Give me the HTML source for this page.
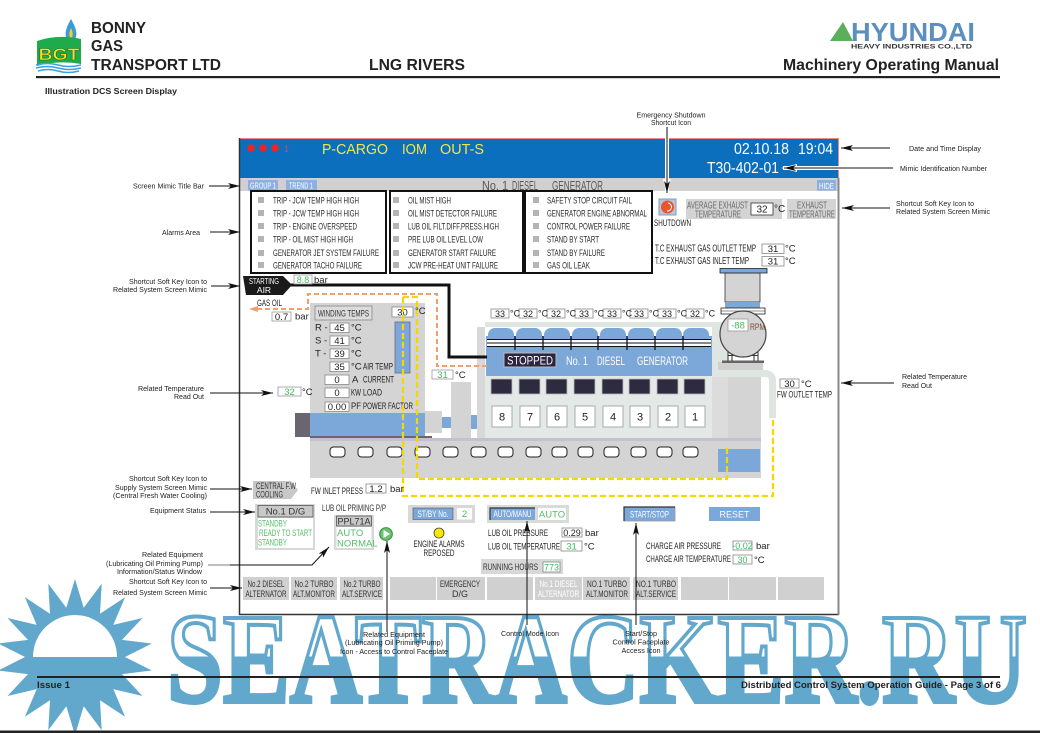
<!DOCTYPE html>
<html><head><meta charset="utf-8"><style>
html,body{margin:0;padding:0;background:#fff;}
svg{display:block;}
text{font-family:"Liberation Sans",Arial,sans-serif;}
.n{font-family:"Liberation Sans Narrow","Liberation Sans",sans-serif;}
.a{font-size:7px;fill:#222;}
</style></head><body>
<svg width="1040" height="733" viewBox="0 0 1040 733" xmlns="http://www.w3.org/2000/svg">
<defs>
<marker id="ah" viewBox="0 0 12 6" refX="12" refY="3" markerWidth="12" markerHeight="6" orient="auto" markerUnits="userSpaceOnUse"><path d="M0,0 L12,3 L0,6 L3,3 z" fill="#111"/></marker>
<linearGradient id="wm" gradientUnits="userSpaceOnUse" x1="0" y1="612" x2="0" y2="705"><stop offset="0.48" stop-color="#fff"/><stop offset="0.48" stop-color="#62a8cc"/></linearGradient>
</defs>

<!-- watermark -->
<polygon fill="#62a8cc" points="75,579 83.7,607.8 101.7,583.7 100,613.7 125.1,597.2 113.3,624.9 142.5,618 122,639.9 151.8,643.5 125,657 151.8,670.5 122,674.1 142.5,696 113.3,689.1 125.1,716.7 100,700.3 101.7,730.3 83.7,706.2 75,735 66.3,706.2 48.3,730.3 50,700.3 24.9,716.7 36.7,689.1 7.5,696 28,674.1 -1.8,670.5 25,657 -1.8,643.5 28,639.9 7.5,618 36.7,624.9 24.9,597.2 50,613.7 48.3,583.7 66.3,607.8"/>
<circle cx="75" cy="657" r="50" fill="#62a8cc"/>
<path d="M33,657 A42,42 0 0 1 117,657 Z" fill="#fff"/>
<text x="167" y="702" font-family="Liberation Serif,serif" font-weight="bold" font-size="128" textLength="860" lengthAdjust="spacingAndGlyphs" fill="url(#wm)" stroke="#62a8cc" stroke-width="4" style="font-family:'Liberation Serif',serif">SEATRACKER.RU</text>

<!-- header -->
<path d="M71,19 C66,28 64,34 67,39 L75,39 C78,34 76,28 71,19 Z" fill="#3b9ad9"/>
<path d="M71,28 C69,32 69,35 70,38 L72,38 C73,35 73,32 71,28 Z" fill="#f5d020"/>
<path d="M37,41 Q58,34 81,39 L81,64 Q58,60 37,66 Z" fill="#1faa4c"/>
<text x="38.5" y="60" font-size="17" font-weight="bold" fill="#f3e21c" stroke="#2a6a2a" stroke-width="0.6" textLength="41" lengthAdjust="spacingAndGlyphs">BGT</text>
<path d="M36,65 Q47,62 58,65 T81,65 M36,68 Q47,65 58,68 T81,68 M38,71 Q48,68 58,71 T79,71" fill="none" stroke="#3aa2e2" stroke-width="1.6"/>
<text x="91" y="33" font-size="16" font-weight="bold" fill="#222" textLength="55" lengthAdjust="spacingAndGlyphs">BONNY</text>
<text x="91" y="51" font-size="16" font-weight="bold" fill="#222" textLength="32" lengthAdjust="spacingAndGlyphs">GAS</text>
<text x="91" y="70" font-size="16" font-weight="bold" fill="#222" textLength="130" lengthAdjust="spacingAndGlyphs">TRANSPORT LTD</text>
<text x="369" y="70" font-size="16" font-weight="bold" fill="#222" textLength="96" lengthAdjust="spacingAndGlyphs">LNG RIVERS</text>
<polygon points="830,41 853,41 843,22" fill="#5bae5b"/>
<text x="851" y="41" font-size="26" font-weight="bold" fill="#5b8fc0" textLength="124" lengthAdjust="spacingAndGlyphs">HYUNDAI</text>
<text x="851" y="48.5" font-size="6.5" font-weight="bold" fill="#333" textLength="121" lengthAdjust="spacingAndGlyphs">HEAVY INDUSTRIES CO.,LTD</text>
<text x="783" y="70" font-size="16" font-weight="bold" fill="#222" textLength="216" lengthAdjust="spacingAndGlyphs">Machinery Operating Manual</text>
<rect x="36" y="76" width="964" height="2.2" fill="#222"/>
<text x="45" y="94" font-size="8.5" font-weight="bold" fill="#222" textLength="132" lengthAdjust="spacingAndGlyphs">Illustration DCS Screen Display</text>

<!-- DCS frame -->
<rect x="240" y="138" width="599" height="476" fill="#fff"/>
<rect x="240" y="138" width="599" height="40" fill="#0b6fbe"/>
<path d="M239.5,138.5 L838.5,138.5 L838.5,178" fill="none" stroke="#e88" stroke-width="1"/>
<circle cx="251" cy="148" r="3.8" fill="#ee2222"/>
<circle cx="263" cy="148" r="3.8" fill="#ee2222"/>
<circle cx="275" cy="148" r="3.8" fill="#ee2222"/>
<text x="284" y="152" font-size="9" fill="#e04060">1</text>
<g font-size="15" fill="#f2e64a">
<text x="322" y="154" textLength="66" lengthAdjust="spacingAndGlyphs">P-CARGO</text>
<text x="402" y="154" textLength="25" lengthAdjust="spacingAndGlyphs">IOM</text>
<text x="440" y="154" textLength="44" lengthAdjust="spacingAndGlyphs">OUT-S</text>
</g>
<g font-size="16" fill="#fff">
<text x="734" y="154" textLength="55" lengthAdjust="spacingAndGlyphs">02.10.18</text>
<text x="798" y="154" textLength="35" lengthAdjust="spacingAndGlyphs">19:04</text>
<text x="707" y="173" textLength="72" lengthAdjust="spacingAndGlyphs">T30-402-01</text>
</g>
<rect x="240" y="178" width="599" height="13" fill="#d0d0d0"/>
<rect x="248" y="180" width="30" height="10.5" fill="#8fb0dc"/>
<text class="n" x="250" y="188.5" font-size="8" fill="#fff" textLength="26" lengthAdjust="spacingAndGlyphs">GROUP 1</text>
<rect x="286" y="180" width="31" height="10.5" fill="#8fb0dc"/>
<text class="n" x="289" y="188.5" font-size="8" fill="#fff" textLength="24" lengthAdjust="spacingAndGlyphs">TREND 1</text>
<g class="n" font-size="13" fill="#5a5a5a">
<text x="482" y="190" textLength="26" lengthAdjust="spacingAndGlyphs">No. 1</text>
<text x="512" y="190" textLength="26" lengthAdjust="spacingAndGlyphs">DIESEL</text>
<text x="552" y="190" textLength="51" lengthAdjust="spacingAndGlyphs">GENERATOR</text>
</g>
<rect x="817" y="180" width="19" height="10.5" fill="#8fb0dc"/>
<text class="n" x="819" y="189" font-size="8.5" fill="#fff" textLength="15" lengthAdjust="spacingAndGlyphs">HIDE</text>

<!-- alarm boxes -->
<g fill="none" stroke="#111" stroke-width="2">
<rect x="251" y="191" width="135" height="82"/>
<rect x="390" y="191" width="133" height="82"/>
<rect x="525" y="191" width="127" height="82"/>
</g>
<g fill="#b4b4b4">
<rect x="258" y="197" width="6" height="6"/><rect x="258" y="210" width="6" height="6"/><rect x="258" y="223" width="6" height="6"/><rect x="258" y="236" width="6" height="6"/><rect x="258" y="250" width="6" height="6"/><rect x="258" y="262" width="6" height="6"/>
<rect x="393" y="197" width="6" height="6"/><rect x="393" y="210" width="6" height="6"/><rect x="393" y="223" width="6" height="6"/><rect x="393" y="236" width="6" height="6"/><rect x="393" y="250" width="6" height="6"/><rect x="393" y="262" width="6" height="6"/>
<rect x="533" y="197" width="6" height="6"/><rect x="533" y="210" width="6" height="6"/><rect x="533" y="223" width="6" height="6"/><rect x="533" y="236" width="6" height="6"/><rect x="533" y="250" width="6" height="6"/><rect x="533" y="262" width="6" height="6"/>
</g>
<g class="n" font-size="9" fill="#2a2a2a">
<text x="273" y="203.5" textLength="86" lengthAdjust="spacingAndGlyphs">TRIP - JCW TEMP HIGH HIGH</text>
<text x="273" y="216.5" textLength="86" lengthAdjust="spacingAndGlyphs">TRIP - JCW TEMP HIGH HIGH</text>
<text x="273" y="229.5" textLength="84" lengthAdjust="spacingAndGlyphs">TRIP - ENGINE OVERSPEED</text>
<text x="273" y="242.5" textLength="80" lengthAdjust="spacingAndGlyphs">TRIP - OIL MIST HIGH HIGH</text>
<text x="273" y="256" textLength="106" lengthAdjust="spacingAndGlyphs">GENERATOR JET SYSTEM FAILURE</text>
<text x="273" y="268.5" textLength="89" lengthAdjust="spacingAndGlyphs">GENERATOR TACHO FAILURE</text>
<text x="408" y="203.5" textLength="43" lengthAdjust="spacingAndGlyphs">OIL MIST HIGH</text>
<text x="408" y="216.5" textLength="89" lengthAdjust="spacingAndGlyphs">OIL MIST DETECTOR FAILURE</text>
<text x="408" y="229.5" textLength="91" lengthAdjust="spacingAndGlyphs">LUB OIL FILT.DIFF.PRESS.HIGH</text>
<text x="408" y="242.5" textLength="75" lengthAdjust="spacingAndGlyphs">PRE LUB OIL LEVEL LOW</text>
<text x="408" y="256" textLength="88" lengthAdjust="spacingAndGlyphs">GENERATOR START FAILURE</text>
<text x="408" y="268.5" textLength="90" lengthAdjust="spacingAndGlyphs">JCW PRE-HEAT UNIT FAILURE</text>
<text x="547" y="203.5" textLength="85" lengthAdjust="spacingAndGlyphs">SAFETY STOP CIRCUIT FAIL</text>
<text x="547" y="216.5" textLength="100" lengthAdjust="spacingAndGlyphs">GENERATOR ENGINE ABNORMAL</text>
<text x="547" y="229.5" textLength="83" lengthAdjust="spacingAndGlyphs">CONTROL POWER FAILURE</text>
<text x="547" y="242.5" textLength="52" lengthAdjust="spacingAndGlyphs">STAND BY START</text>
<text x="547" y="256" textLength="58" lengthAdjust="spacingAndGlyphs">STAND BY FAILURE</text>
<text x="547" y="268.5" textLength="43" lengthAdjust="spacingAndGlyphs">GAS OIL LEAK</text>
</g>

<!-- right top panel -->
<rect x="659" y="199" width="17" height="16" fill="#b8c4d8" stroke="#8a9ab8"/>
<circle cx="667.5" cy="207" r="6.5" fill="#e8552e"/>
<path d="M668,203 A4,4 0 0 1 667,211" fill="none" stroke="#fff" stroke-width="1"/>
<text class="n" x="654" y="226" font-size="9.5" fill="#222" textLength="37" lengthAdjust="spacingAndGlyphs">SHUTDOWN</text>
<rect x="686" y="199" width="96" height="20" fill="#d4d4d4"/>
<text class="n" x="687" y="208.5" font-size="10" fill="#6a6a6a" textLength="61" lengthAdjust="spacingAndGlyphs">AVERAGE EXHAUST</text>
<text class="n" x="695" y="217.5" font-size="10" fill="#6a6a6a" textLength="46" lengthAdjust="spacingAndGlyphs">TEMPERATURE</text>
<rect x="751" y="203" width="22" height="12" fill="#fff" stroke="#333" stroke-width="0.8"/>
<text class="n" x="762" y="212.5" font-size="10" fill="#222" text-anchor="middle">32</text>
<text class="n" x="774" y="212" font-size="10" fill="#222">°C</text>
<rect x="787" y="199" width="49" height="20" fill="#d4d4d4"/>
<text class="n" x="797" y="208.5" font-size="10" fill="#6a6a6a" textLength="30" lengthAdjust="spacingAndGlyphs">EXHAUST</text>
<text class="n" x="789" y="217.5" font-size="10" fill="#6a6a6a" textLength="46" lengthAdjust="spacingAndGlyphs">TEMPERATURE</text>
<text class="n" x="655" y="251.5" font-size="10" fill="#222" textLength="101" lengthAdjust="spacingAndGlyphs">T.C EXHAUST GAS OUTLET TEMP</text>
<text class="n" x="655" y="264" font-size="10" fill="#222" textLength="94" lengthAdjust="spacingAndGlyphs">T.C EXHAUST GAS INLET TEMP</text>
<rect x="762" y="244" width="22" height="9.5" fill="#fff" stroke="#888" stroke-width="0.8"/>
<text class="n" x="773" y="252" font-size="9.5" fill="#222" text-anchor="middle">31</text>
<text class="n" x="785" y="251.5" font-size="9.5" fill="#222">°C</text>
<rect x="762" y="256.5" width="22" height="9.5" fill="#fff" stroke="#888" stroke-width="0.8"/>
<text class="n" x="773" y="264.5" font-size="9.5" fill="#222" text-anchor="middle">31</text>
<text class="n" x="785" y="264" font-size="9.5" fill="#222">°C</text>

<!-- base & generator -->
<rect x="310" y="438" width="451" height="40" fill="#d4d4d4"/>
<rect x="310" y="438" width="451" height="3" fill="#c6bfd0"/>
<rect x="718" y="449" width="42" height="23" fill="#7ca7d9"/>
<g fill="#fff" stroke="#222" stroke-width="1">
<rect x="330" y="447" width="15" height="10" rx="3.5"/><rect x="358" y="447" width="15" height="10" rx="3.5"/><rect x="387" y="447" width="15" height="10" rx="3.5"/><rect x="415" y="447" width="15" height="10" rx="3.5"/><rect x="443" y="447" width="15" height="10" rx="3.5"/><rect x="471" y="447" width="15" height="10" rx="3.5"/><rect x="498" y="447" width="15" height="10" rx="3.5"/><rect x="526" y="447" width="15" height="10" rx="3.5"/><rect x="552" y="447" width="15" height="10" rx="3.5"/><rect x="578" y="447" width="15" height="10" rx="3.5"/><rect x="604" y="447" width="15" height="10" rx="3.5"/><rect x="631" y="447" width="15" height="10" rx="3.5"/><rect x="657" y="447" width="15" height="10" rx="3.5"/><rect x="683" y="447" width="15" height="10" rx="3.5"/>
</g>
<rect x="310" y="303" width="115" height="110" fill="#d4d4d4"/>
<rect x="295" y="413" width="15" height="24" fill="#6a6570"/>
<rect x="310" y="413" width="115" height="24" fill="#7ca7d9"/>
<rect x="310" y="436" width="122" height="2" fill="#6a6570"/>
<rect x="425" y="411" width="17" height="22" fill="#d4d4d4"/>
<rect x="442" y="417" width="10" height="11" fill="#7ca7d9"/>
<rect x="451" y="382" width="20" height="56" fill="#d4d4d4"/>
<rect x="471" y="415" width="7" height="14" fill="#7ca7d9"/>

<!-- winding panel contents -->
<rect x="315" y="306" width="57" height="14" fill="#dcdcdc" stroke="#888" stroke-width="0.8"/>
<text class="n" x="318" y="316.5" font-size="9.5" fill="#333" textLength="51" lengthAdjust="spacingAndGlyphs">WINDING TEMPS</text>
<rect x="392" y="307" width="21" height="10" fill="#fff" stroke="#888" stroke-width="0.8"/>
<text class="n" x="402.5" y="315.5" font-size="9.5" fill="#222" text-anchor="middle">30</text>
<text class="n" x="415" y="314" font-size="9.5" fill="#222">°C</text>
<rect x="395" y="322" width="15" height="51" fill="#7ca7d9" stroke="#6a6a80" stroke-width="0.8"/>
<g class="n" font-size="9.5" fill="#222">
<text x="315" y="330.5">R -</text><text x="315" y="343.5">S -</text><text x="315" y="356.5">T -</text>
</g>
<g fill="#fff" stroke="#888" stroke-width="0.8">
<rect x="330" y="323" width="19" height="9.5"/><rect x="330" y="336" width="19" height="9.5"/><rect x="330" y="349" width="19" height="9.5"/><rect x="330" y="362" width="19" height="9.5"/>
<rect x="325" y="375" width="24" height="9.5"/><rect x="325" y="388" width="24" height="9.5"/><rect x="325" y="402" width="24" height="9.5"/>
</g>
<g class="n" font-size="9.5" fill="#222" text-anchor="middle">
<text x="339.5" y="331">45</text><text x="339.5" y="344">41</text><text x="339.5" y="357">39</text><text x="339.5" y="370">35</text>
<text x="337" y="383">0</text><text x="337" y="396">0</text><text x="337" y="410">0.00</text>
</g>
<g class="n" font-size="9.5" fill="#222">
<text x="351" y="330.5">°C</text><text x="351" y="343.5">°C</text><text x="351" y="356.5">°C</text><text x="351" y="369.5">°C</text>
<text x="363" y="369.5" textLength="30" lengthAdjust="spacingAndGlyphs">AIR TEMP</text>
<text x="352" y="382.5">A</text><text x="363" y="382.5" textLength="31" lengthAdjust="spacingAndGlyphs">CURRENT</text>
<text x="351" y="395.5" textLength="10" lengthAdjust="spacingAndGlyphs">KW</text><text x="363" y="395.5" textLength="19" lengthAdjust="spacingAndGlyphs">LOAD</text>
<text x="351" y="409" textLength="10" lengthAdjust="spacingAndGlyphs">PF</text><text x="363" y="409" textLength="50" lengthAdjust="spacingAndGlyphs">POWER FACTOR</text>
</g>

<!-- engine -->
<rect x="477" y="327" width="8" height="111" fill="#d8d8d8"/>
<rect x="485" y="322" width="227" height="5" fill="#dfe6e2"/>
<rect x="485" y="376" width="227" height="62" fill="#e2e9e6"/>
<rect x="486" y="336" width="226" height="40" fill="#7ca7d9"/>
<g fill="#7ca7d9">
<rect x="488" y="328" width="26" height="20" rx="7"/><rect x="516" y="328" width="26" height="20" rx="7"/><rect x="544" y="328" width="26" height="20" rx="7"/><rect x="572" y="328" width="26" height="20" rx="7"/><rect x="600" y="328" width="26" height="20" rx="7"/><rect x="628" y="328" width="26" height="20" rx="7"/><rect x="656" y="328" width="26" height="20" rx="7"/><rect x="683" y="328" width="26" height="20" rx="7"/>
</g>
<rect x="487" y="339" width="224" height="8" fill="#fff"/>
<path d="M487,339.5 H711 M487,343 H711 M487,346.5 H711" stroke="#111" stroke-width="0.9"/>
<path d="M515,336 V350 M543,336 V350 M571,336 V350 M598,336 V350 M627,336 V350 M655,336 V350 M683,336 V350" stroke="#111" stroke-width="1.3"/>
<rect x="504" y="353" width="52" height="14" fill="#2b2540" stroke="#bbb" stroke-width="1"/>
<text class="n" x="530" y="364.5" font-size="12" fill="#fff" text-anchor="middle" textLength="46" lengthAdjust="spacingAndGlyphs">STOPPED</text>
<g class="n" font-size="12" fill="#fff">
<text x="566" y="365" textLength="22" lengthAdjust="spacingAndGlyphs">No. 1</text>
<text x="597" y="365" textLength="28" lengthAdjust="spacingAndGlyphs">DIESEL</text>
<text x="637" y="365" textLength="51" lengthAdjust="spacingAndGlyphs">GENERATOR</text>
</g>
<g fill="#2e2a40" stroke="#bbb" stroke-width="0.8">
<rect x="491" y="379" width="21" height="15"/><rect x="519" y="379" width="21" height="15"/><rect x="546" y="379" width="21" height="15"/><rect x="574" y="379" width="21" height="15"/><rect x="602" y="379" width="21" height="15"/><rect x="629" y="379" width="21" height="15"/><rect x="657" y="379" width="21" height="15"/><rect x="684" y="379" width="21" height="15"/>
</g>
<g fill="#fff" stroke="#aaa" stroke-width="1">
<rect x="492" y="406" width="20" height="21"/><rect x="520" y="406" width="20" height="21"/><rect x="547" y="406" width="20" height="21"/><rect x="575" y="406" width="20" height="21"/><rect x="603" y="406" width="20" height="21"/><rect x="630" y="406" width="20" height="21"/><rect x="658" y="406" width="20" height="21"/><rect x="685" y="406" width="20" height="21"/>
</g>
<g class="n" font-size="11" fill="#222" text-anchor="middle">
<text x="502" y="420.5">8</text><text x="530" y="420.5">7</text><text x="557" y="420.5">6</text><text x="585" y="420.5">5</text><text x="613" y="420.5">4</text><text x="640" y="420.5">3</text><text x="668" y="420.5">2</text><text x="695" y="420.5">1</text>
</g>
<!-- cylinder temps -->
<g fill="#fff" stroke="#888" stroke-width="0.8">
<rect x="491" y="309" width="18" height="9"/><rect x="519" y="309" width="18" height="9"/><rect x="547" y="309" width="18" height="9"/><rect x="575" y="309" width="18" height="9"/><rect x="603" y="309" width="18" height="9"/><rect x="630" y="309" width="18" height="9"/><rect x="658" y="309" width="18" height="9"/><rect x="686" y="309" width="18" height="9"/>
</g>
<g class="n" font-size="9" fill="#222" text-anchor="middle">
<text x="500" y="317">33</text><text x="528" y="317">32</text><text x="556" y="317">32</text><text x="584" y="317">33</text><text x="612" y="317">33</text><text x="639" y="317">33</text><text x="667" y="317">33</text><text x="695" y="317">32</text>
</g>
<g class="n" font-size="9" fill="#222">
<text x="510" y="316.5">°C</text><text x="538" y="316.5">°C</text><text x="566" y="316.5">°C</text><text x="594" y="316.5">°C</text><text x="622" y="316.5">°C</text><text x="649" y="316.5">°C</text><text x="677" y="316.5">°C</text><text x="705" y="316.5">°C</text>
</g>

<!-- turbo / right end -->
<rect x="712" y="322" width="16" height="50" fill="#dfe6e2"/>
<rect x="712" y="377" width="49" height="61" fill="#d4d4d4"/>
<rect x="712" y="377" width="16" height="61" fill="#dcdcdc"/>
<path d="M712,373.5 H765 Q772.5,373.5 772.5,381 V418" fill="none" stroke="#dfe6e2" stroke-width="7"/>
<rect x="718" y="362" width="45" height="8" fill="#d0d0d0"/>
<rect x="722" y="360.5" width="42" height="2.5" fill="#666"/>
<path d="M728,352 V361 M732,352 V361 M754,352 V361 M758,352 V361 M728,355.5 H758" stroke="#333" stroke-width="1" fill="none"/>
<rect x="725" y="273" width="35" height="29" fill="#d4d4d4" stroke="#333" stroke-width="0.8"/>
<rect x="725" y="302" width="35" height="6" fill="#7ca7d9"/>
<rect x="720" y="268.5" width="47" height="4.5" fill="#7ca7d9" stroke="#222" stroke-width="0.8"/>
<rect x="721" y="308" width="44" height="6" fill="#fff" stroke="#222" stroke-width="0.8"/>
<path d="M721,311 H765" stroke="#222" stroke-width="0.6"/>
<circle cx="743" cy="334" r="23" fill="#d4d4d4" stroke="#444" stroke-width="1.2"/>
<rect x="728" y="319" width="20" height="12" fill="#fff" stroke="#999" stroke-width="0.8"/>
<text class="n" x="738" y="328.5" font-size="9.5" fill="#3fbf5f" text-anchor="middle">-88</text>
<text class="n" x="750" y="330" font-size="9" fill="#7a4a30" textLength="15" lengthAdjust="spacingAndGlyphs">RPM</text>
<rect x="780" y="379" width="19" height="9" fill="#fff" stroke="#888" stroke-width="0.8"/>
<text class="n" x="789.5" y="387" font-size="9.5" fill="#222" text-anchor="middle">30</text>
<text class="n" x="801" y="387" font-size="9.5" fill="#222">°C</text>
<text class="n" x="777" y="397.5" font-size="9.5" fill="#222" textLength="55" lengthAdjust="spacingAndGlyphs">FW OUTLET TEMP</text>

<!-- small readouts -->
<rect x="432" y="370" width="21" height="9" fill="#fff" stroke="#999" stroke-width="0.8"/>
<text class="n" x="442.5" y="378" font-size="9.5" fill="#3fbf5f" text-anchor="middle">31</text>
<text class="n" x="455" y="378" font-size="9.5" fill="#222">°C</text>
<rect x="278" y="387" width="23" height="9" fill="#fff" stroke="#999" stroke-width="0.8"/>
<text class="n" x="289.5" y="395" font-size="9.5" fill="#3fbf5f" text-anchor="middle">32</text>
<text class="n" x="302" y="395" font-size="9.5" fill="#222">°C</text>

<!-- pipes -->
<path d="M487,366 L437,366 L437,294 L308,294 L308,309 L256,309" fill="none" stroke="#f0a070" stroke-width="2" stroke-dasharray="5 3"/>
<polygon points="249,309 258,306 258,312" fill="#f0a070"/>
<text class="n" x="257" y="306" font-size="9.5" fill="#222" textLength="25" lengthAdjust="spacingAndGlyphs">GAS OIL</text>
<rect x="272" y="312" width="19" height="9" fill="#fff" stroke="#999" stroke-width="0.8"/>
<text class="n" x="281.5" y="320" font-size="9.5" fill="#222" text-anchor="middle">0.7</text>
<text class="n" x="295" y="319.5" font-size="9.5" fill="#222">bar</text>
<path d="M286,285 L449,285 L449,357 L487,357" fill="none" stroke="#111" stroke-width="3"/>
<polygon points="243,276 283,276 292,285 283,295 246,295" fill="#1a1a1a"/>
<text class="n" x="264" y="284" font-size="8.5" fill="#fff" text-anchor="middle" textLength="30" lengthAdjust="spacingAndGlyphs">STARTING</text>
<text class="n" x="264" y="293" font-size="8.5" fill="#fff" text-anchor="middle">AIR</text>
<rect x="294" y="275" width="18" height="9" fill="#fff" stroke="#999" stroke-width="0.8"/>
<text class="n" x="303" y="283" font-size="9" fill="#3fbf5f" text-anchor="middle">8.8</text>
<text class="n" x="314" y="283" font-size="9.5" fill="#222">bar</text>
<g fill="none" stroke="#f5d800" stroke-width="2.2" stroke-dasharray="6 3">
<path d="M403,297 L403,496 L773,496 L773,417"/>
<path d="M403,297 L417,297 L417,479 L727,479 L727,447"/>
</g>

<!-- central FW -->
<polygon points="253,481 291,481 298,490 291,499 253,499" fill="#c8c8c8"/>
<text class="n" x="256" y="489" font-size="9" fill="#333" textLength="40" lengthAdjust="spacingAndGlyphs">CENTRAL F.W</text>
<text class="n" x="256" y="497.5" font-size="9" fill="#333" textLength="27" lengthAdjust="spacingAndGlyphs">COOLING</text>
<text class="n" x="311" y="494" font-size="9.5" fill="#222" textLength="52" lengthAdjust="spacingAndGlyphs">FW INLET PRESS</text>
<rect x="366" y="484" width="20" height="9" fill="#fff" stroke="#888" stroke-width="0.8"/>
<text class="n" x="376" y="492" font-size="9.5" fill="#222" text-anchor="middle">1.2</text>
<text class="n" x="390" y="492" font-size="9.5" fill="#222">bar</text>

<!-- No.1 D/G -->
<rect x="255" y="504" width="60" height="46" fill="#d8d8d8"/>
<rect x="258" y="505.5" width="55" height="11.5" fill="#c8c8c8" stroke="#555" stroke-width="0.8"/>
<text class="n" x="285.5" y="514.5" font-size="9.5" fill="#333" text-anchor="middle">No.1 D/G</text>
<rect x="258" y="518" width="55" height="30" fill="#fff"/>
<g class="n" font-size="9.5" fill="#52c06a">
<text x="258" y="526.5" textLength="29" lengthAdjust="spacingAndGlyphs">STANDBY</text>
<text x="259" y="536" textLength="53" lengthAdjust="spacingAndGlyphs">READY TO START</text>
<text x="258" y="545.5" textLength="29" lengthAdjust="spacingAndGlyphs">STANDBY</text>
</g>
<text class="n" x="322" y="511" font-size="9.5" fill="#333" textLength="64" lengthAdjust="spacingAndGlyphs">LUB OIL PRIMING P/P</text>
<rect x="334" y="515" width="40" height="35" fill="#d8d8d8"/>
<rect x="336.5" y="516" width="35" height="10" fill="#c8c8c8" stroke="#555" stroke-width="0.8"/>
<text class="n" x="354" y="524.5" font-size="9" fill="#333" text-anchor="middle">PPL71A</text>
<rect x="336.5" y="527" width="35" height="21" fill="#fff"/>
<text class="n" x="337" y="536" font-size="9.5" fill="#52c06a">AUTO</text>
<text class="n" x="337" y="546.5" font-size="9.5" fill="#52c06a">NORMAL</text>
<circle cx="386" cy="534" r="6.3" fill="#6cc070" stroke="#3a9a4a" stroke-width="1.2"/>
<polygon points="383.5,530 383.5,538 390,534" fill="#fff"/>

<!-- ST/BY -->
<rect x="408" y="505" width="67" height="18" fill="#d8d8d8"/>
<rect x="413" y="508" width="40" height="11.5" fill="#7ca7d9" stroke="#555" stroke-width="0.6"/>
<text class="n" x="433" y="517" font-size="9" fill="#fff" text-anchor="middle" textLength="31" lengthAdjust="spacingAndGlyphs">ST/BY No.</text>
<rect x="457" y="508" width="15" height="11.5" fill="#fff"/>
<text class="n" x="464.5" y="517" font-size="9.5" fill="#3fbf5f" text-anchor="middle">2</text>
<circle cx="439" cy="533" r="5" fill="#f8e800" stroke="#444" stroke-width="0.8"/>
<text class="n" x="439" y="547" font-size="9.5" fill="#222" text-anchor="middle" textLength="51" lengthAdjust="spacingAndGlyphs">ENGINE ALARMS</text>
<text class="n" x="439" y="556" font-size="9.5" fill="#222" text-anchor="middle" textLength="31" lengthAdjust="spacingAndGlyphs">REPOSED</text>

<!-- AUTO/MANU -->
<rect x="487" y="505" width="82" height="18" fill="#d8dcd8"/>
<rect x="490" y="508" width="45" height="12" fill="#7ca7d9"/>
<path d="M490,520 V508 H535" fill="none" stroke="#333" stroke-width="1.2"/>
<text class="n" x="512.5" y="517" font-size="9" fill="#fff" text-anchor="middle" textLength="38" lengthAdjust="spacingAndGlyphs">AUTO/MANU</text>
<rect x="538" y="508" width="28" height="12" fill="#fff"/>
<text class="n" x="552" y="517.5" font-size="9.5" fill="#52c06a" text-anchor="middle">AUTO</text>
<text class="n" x="488" y="536" font-size="9.5" fill="#222" textLength="60" lengthAdjust="spacingAndGlyphs">LUB OIL PRESSURE</text>
<rect x="562" y="528" width="20" height="9" fill="#fff" stroke="#888" stroke-width="0.8"/>
<text class="n" x="572" y="536" font-size="9" fill="#222" text-anchor="middle">0.29</text>
<text class="n" x="585" y="536" font-size="9.5" fill="#222">bar</text>
<text class="n" x="488" y="549.5" font-size="9.5" fill="#222" textLength="72" lengthAdjust="spacingAndGlyphs">LUB OIL TEMPERATURE</text>
<rect x="561" y="541" width="21" height="10" fill="#fff" stroke="#888" stroke-width="0.8"/>
<text class="n" x="571.5" y="549.5" font-size="9.5" fill="#3fbf5f" text-anchor="middle">31</text>
<text class="n" x="584" y="549.5" font-size="9.5" fill="#222">°C</text>
<rect x="481" y="559" width="82" height="15" fill="#d8d8d8"/>
<text class="n" x="483" y="570" font-size="9.5" fill="#333" textLength="55" lengthAdjust="spacingAndGlyphs">RUNNING HOURS</text>
<rect x="543" y="562" width="17" height="10" fill="#fff" stroke="#888" stroke-width="0.8"/>
<text class="n" x="551.5" y="570.5" font-size="9" fill="#3fbf5f" text-anchor="middle">773</text>

<!-- start/stop, reset -->
<rect x="624" y="507" width="51" height="14" fill="#7ca7d9" stroke="#999" stroke-width="0.8"/>
<path d="M624,521 V507 H675" fill="none" stroke="#333" stroke-width="1.2"/>
<text class="n" x="649.5" y="517.5" font-size="9" fill="#fff" text-anchor="middle" textLength="39" lengthAdjust="spacingAndGlyphs">START/STOP</text>
<rect x="709" y="507" width="51" height="14" fill="#7ca7d9"/>
<text class="n" x="734.5" y="517.5" font-size="9" fill="#fff" text-anchor="middle">RESET</text>
<text class="n" x="646" y="549" font-size="9.5" fill="#222" textLength="75" lengthAdjust="spacingAndGlyphs">CHARGE AIR PRESSURE</text>
<rect x="733" y="541" width="19" height="9" fill="#fff" stroke="#888" stroke-width="0.8"/>
<text class="n" x="742.5" y="549" font-size="9" fill="#3fbf5f" text-anchor="middle">-0.02</text>
<text class="n" x="756" y="549" font-size="9.5" fill="#222">bar</text>
<text class="n" x="646" y="562" font-size="9.5" fill="#222" textLength="85" lengthAdjust="spacingAndGlyphs">CHARGE AIR TEMPERATURE</text>
<rect x="733" y="555" width="19" height="9" fill="#fff" stroke="#888" stroke-width="0.8"/>
<text class="n" x="742.5" y="563" font-size="9" fill="#3fbf5f" text-anchor="middle">30</text>
<text class="n" x="754" y="563" font-size="9.5" fill="#222">°C</text>

<!-- soft keys -->
<g fill="#d0d0d0">
<rect x="243" y="577" width="46" height="23"/><rect x="291" y="577" width="46" height="23"/><rect x="340" y="577" width="43" height="23"/><rect x="390" y="577" width="46" height="23"/><rect x="437" y="577" width="48" height="23"/><rect x="487" y="577" width="46" height="23"/><rect x="535" y="577" width="47" height="23"/><rect x="583" y="577" width="47" height="23"/><rect x="633" y="577" width="45" height="23"/><rect x="681" y="577" width="47" height="23"/><rect x="729" y="577" width="47" height="23"/><rect x="778" y="577" width="46" height="23"/>
</g>
<g class="n" font-size="9" fill="#333" text-anchor="middle">
<text x="266" y="587" textLength="37" lengthAdjust="spacingAndGlyphs">No.2 DIESEL</text><text x="266" y="597" textLength="41" lengthAdjust="spacingAndGlyphs">ALTERNATOR</text>
<text x="314" y="587" textLength="39" lengthAdjust="spacingAndGlyphs">No.2 TURBO</text><text x="314" y="597" textLength="42" lengthAdjust="spacingAndGlyphs">ALT.MONITOR</text>
<text x="362" y="587" textLength="37" lengthAdjust="spacingAndGlyphs">No.2 TURBO</text><text x="362" y="597" textLength="40" lengthAdjust="spacingAndGlyphs">ALT.SERVICE</text>
<text x="460" y="587" textLength="40" lengthAdjust="spacingAndGlyphs">EMERGENCY</text><text x="460" y="597">D/G</text>
<text x="607" y="587" textLength="40" lengthAdjust="spacingAndGlyphs">NO.1 TURBO</text><text x="607" y="597" textLength="42" lengthAdjust="spacingAndGlyphs">ALT.MONITOR</text>
<text x="656" y="587" textLength="40" lengthAdjust="spacingAndGlyphs">NO.1 TURBO</text><text x="656" y="597" textLength="40" lengthAdjust="spacingAndGlyphs">ALT.SERVICE</text>
</g>
<g class="n" font-size="9" fill="#fff" text-anchor="middle">
<text x="558.5" y="587" textLength="38" lengthAdjust="spacingAndGlyphs">No.1 DIESEL</text><text x="558.5" y="597" textLength="41" lengthAdjust="spacingAndGlyphs">ALTERNATOR</text>
</g>

<!-- frame edges -->
<path d="M239.5,138 V614.5 H839" fill="none" stroke="#333" stroke-width="1.5"/>
<path d="M838.5,178 V615" fill="none" stroke="#888" stroke-width="2"/>

<!-- annotation arrows -->
<g stroke="#111" stroke-width="1" fill="none" marker-end="url(#ah)">
<line x1="209" y1="186" x2="240" y2="186"/>
<line x1="210" y1="232" x2="240" y2="232"/>
<line x1="211" y1="286" x2="240" y2="286"/>
<line x1="210" y1="393" x2="273" y2="393"/>
<line x1="210" y1="489" x2="252" y2="489"/>
<line x1="210" y1="512" x2="255" y2="512"/>
<polyline points="230,565 312,565 329,547"/>
<line x1="210" y1="588" x2="242" y2="588"/>
<line x1="890" y1="148" x2="841" y2="148"/>
<line x1="890" y1="208" x2="842" y2="208"/>
<line x1="894" y1="383" x2="841" y2="383"/>
<line x1="387" y1="632" x2="387" y2="541"/>
<line x1="527" y1="625" x2="527" y2="521"/>
<line x1="636" y1="625" x2="636" y2="523"/>
</g>
<line x1="208" y1="565" x2="230" y2="565" stroke="#aaa" stroke-width="1.5"/>
<line x1="783" y1="168" x2="839" y2="168" stroke="#fff" stroke-width="4"/>
<polygon points="781,168 797,164 797,172" fill="#fff"/>
<line x1="893" y1="168" x2="784" y2="168" stroke="#111" stroke-width="1" marker-end="url(#ah)"/>
<line x1="667" y1="138" x2="667" y2="191" stroke="#fff" stroke-width="4"/>
<polygon points="667,195 663,179 671,179" fill="#fff"/>
<line x1="667" y1="127" x2="667" y2="193" stroke="#111" stroke-width="1" marker-end="url(#ah)"/>

<!-- annotation labels -->
<g class="a" text-anchor="end">
<text x="204" y="188.5" textLength="71" lengthAdjust="spacingAndGlyphs">Screen Mimic Title Bar</text>
<text x="200" y="235" textLength="38" lengthAdjust="spacingAndGlyphs">Alarms Area</text>
<text x="207" y="284" textLength="78" lengthAdjust="spacingAndGlyphs">Shortcut Soft Key Icon to</text>
<text x="207" y="292" textLength="94" lengthAdjust="spacingAndGlyphs">Related System Screen Mimic</text>
<text x="204" y="391" textLength="66" lengthAdjust="spacingAndGlyphs">Related Temperature</text>
<text x="204" y="399" textLength="30" lengthAdjust="spacingAndGlyphs">Read Out</text>
<text x="207" y="481" textLength="78" lengthAdjust="spacingAndGlyphs">Shortcut Soft Key Icon to</text>
<text x="207" y="490" textLength="92" lengthAdjust="spacingAndGlyphs">Supply System Screen Mimic</text>
<text x="207" y="498" textLength="94" lengthAdjust="spacingAndGlyphs">(Central Fresh Water Cooling)</text>
<text x="206" y="513" textLength="56" lengthAdjust="spacingAndGlyphs">Equipment Status</text>
<text x="203" y="557" textLength="61" lengthAdjust="spacingAndGlyphs">Related Equipment</text>
<text x="203" y="566" textLength="97" lengthAdjust="spacingAndGlyphs">(Lubricating Oil Priming Pump)</text>
<text x="202" y="574" textLength="85" lengthAdjust="spacingAndGlyphs">Information/Status Window</text>
<text x="207" y="584" textLength="78" lengthAdjust="spacingAndGlyphs">Shortcut Soft Key Icon to</text>
<text x="207" y="595" textLength="94" lengthAdjust="spacingAndGlyphs">Related System Screen Mimic</text>
</g>
<g class="a">
<text x="909" y="151" textLength="72" lengthAdjust="spacingAndGlyphs">Date and Time Display</text>
<text x="900" y="171" textLength="87" lengthAdjust="spacingAndGlyphs">Mimic Identification Number</text>
<text x="896" y="206" textLength="78" lengthAdjust="spacingAndGlyphs">Shortcut Soft Key Icon to</text>
<text x="896" y="214" textLength="94" lengthAdjust="spacingAndGlyphs">Related System Screen Mimic</text>
<text x="902" y="379" textLength="65" lengthAdjust="spacingAndGlyphs">Related Temperature</text>
<text x="902" y="388" textLength="30" lengthAdjust="spacingAndGlyphs">Read Out</text>
</g>
<g class="a" text-anchor="middle">
<text x="671" y="117.5" textLength="69" lengthAdjust="spacingAndGlyphs">Emergency Shutdown</text>
<text x="671" y="125" textLength="40" lengthAdjust="spacingAndGlyphs">Shortcut Icon</text>
<text x="394" y="637" textLength="62" lengthAdjust="spacingAndGlyphs">Related Equipment</text>
<text x="394" y="645" textLength="98" lengthAdjust="spacingAndGlyphs">(Lubricating Oil Priming Pump)</text>
<text x="394" y="654" textLength="108" lengthAdjust="spacingAndGlyphs">Icon - Access to Control Faceplate</text>
<text x="530" y="636" textLength="58" lengthAdjust="spacingAndGlyphs">Control Mode Icon</text>
<text x="641" y="636" textLength="32" lengthAdjust="spacingAndGlyphs">Start/Stop</text>
<text x="641" y="644.5" textLength="57" lengthAdjust="spacingAndGlyphs">Control Faceplate</text>
<text x="641" y="653" textLength="39" lengthAdjust="spacingAndGlyphs">Access Icon</text>
</g>

<!-- footer -->
<rect x="37" y="676" width="963" height="2" fill="#222"/>
<text class="n" x="37" y="688" font-size="9" font-weight="bold" fill="#222" textLength="33" lengthAdjust="spacingAndGlyphs">Issue 1</text>
<text class="n" x="741" y="688" font-size="9" font-weight="bold" fill="#222" textLength="260" lengthAdjust="spacingAndGlyphs">Distributed Control System Operation Guide - Page 3 of 6</text>
<rect x="0" y="730.5" width="1040" height="2.5" fill="#222"/>
</svg>
</body></html>
